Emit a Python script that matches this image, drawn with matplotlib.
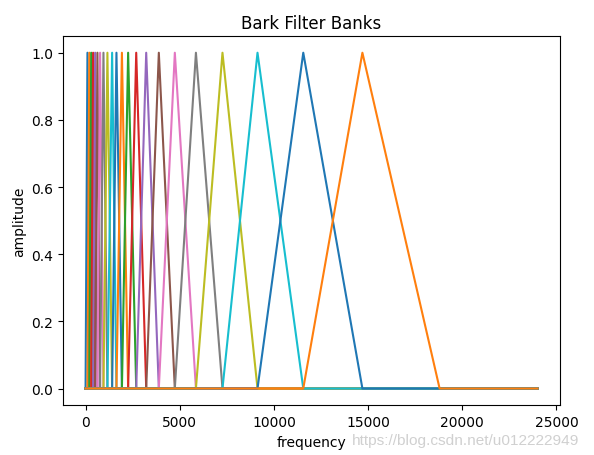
import matplotlib
matplotlib.use('Agg')
import matplotlib.pyplot as plt

# filter edge / centre frequencies (Hz)
# filter k rises from points[k] to points[k+1] and falls to points[k+2]
points = [0, 100, 200, 300, 400, 510, 630, 770, 950, 1160, 1410, 1640,
          1930, 2260, 2690, 3220, 3890, 4740, 5860, 7270, 9130, 11560,
          14700, 18800]
f_max = 24000

fig = plt.figure(figsize=(5.94, 4.56), dpi=100)
ax = fig.add_subplot(111)
fig.subplots_adjust(left=0.106, right=0.943, top=0.919, bottom=0.109)

n_filters = len(points) - 2
for k in range(n_filters):
    lo, c, hi = points[k], points[k + 1], points[k + 2]
    xs = [0, lo, c, hi, f_max]
    ys = [0, 0, 1, 0, 0]
    ax.plot(xs, ys)

ax.set_title('Bark Filter Banks')
ax.set_xlabel('frequency')
ax.set_ylabel('amplitude')

# blog watermark in the lower right corner
fig.text(0.976, 0.033, 'https://blog.csdn.net/u012222949', ha='right', va='center',
         fontsize=11.1, color='#d0d0d0', family='Liberation Sans')

fig.savefig('out.png', dpi=100)
